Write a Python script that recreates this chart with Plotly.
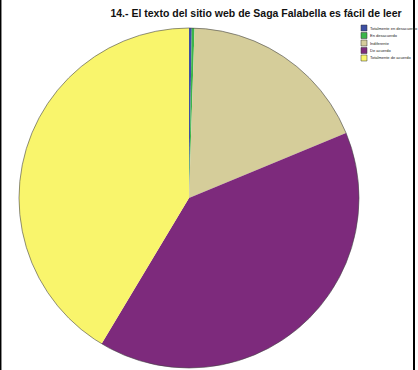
import plotly.graph_objects as go

# Survey responses, item 14
categories = ["Totalmente en desacuerdo", "En desacuerdo", "Indiferente",
              "De acuerdo", "Totalmente de acuerdo"]
counts = [1, 1, 70, 153, 159]
colors = ["#3d4fa3", "#3bb54a", "#d5cd9a", "#7d2a7c", "#f9f56c"]
title = "14.- El texto del sitio web de Saga Falabella es fácil de leer"

W, H = 418, 370
cx, cy, r = 189, 198, 170

fig = go.Figure(go.Pie(
    labels=categories,
    values=counts,
    sort=False,
    direction="clockwise",
    rotation=0,
    textinfo="none",
    hoverinfo="label+value+percent",
    marker=dict(colors=colors, line=dict(width=0)),
    domain=dict(x=[(cx - r) / W, (cx + r) / W],
                y=[(H - cy - r) / H, (H - cy + r) / H]),
    showlegend=False,
))

# Thin outline around the pie and the frame lines on either side
fig.add_shape(type="circle", xref="paper", yref="paper",
              x0=(cx - r) / W, x1=(cx + r) / W,
              y0=(H - cy - r) / H, y1=(H - cy + r) / H,
              line=dict(color="#444", width=0.6), layer="above")
fig.add_shape(type="line", xref="paper", yref="paper",
              x0=0.7 / W, x1=0.7 / W, y0=0, y1=1,
              line=dict(color="black", width=1.5))
fig.add_shape(type="line", xref="paper", yref="paper",
              x0=414 / W, x1=414 / W, y0=0, y1=1,
              line=dict(color="black", width=2))

# Compact legend: colour swatches with category names
row0, step, sw = 28, 7.5, 6
lx = 361
for i, (lab, col) in enumerate(zip(categories, colors)):
    yc = row0 + i * step
    fig.add_shape(type="rect", xref="paper", yref="paper",
                  x0=lx / W, x1=(lx + sw) / W,
                  y0=1 - (yc + sw / 2) / H, y1=1 - (yc - sw / 2) / H,
                  fillcolor=col, line=dict(color="#333", width=0.5))
    fig.add_annotation(text=lab, xref="paper", yref="paper",
                       x=(lx + sw + 1) / W, y=1 - yc / H,
                       xanchor="left", yanchor="middle", showarrow=False,
                       font=dict(family="Liberation Sans, Arial",
                                 size=4, color="#222"))

fig.update_layout(
    width=W, height=H,
    margin=dict(l=0, r=0, t=0, b=0, autoexpand=False),
    paper_bgcolor="white",
    plot_bgcolor="white",
    title=dict(text="<b>" + title + "</b>", x=256 / W, xanchor="center",
               y=1 - 13 / H, yanchor="middle",
               font=dict(family="Liberation Sans, Arial", size=10.5, color="#111")),
)

fig.write_html("out.html")
